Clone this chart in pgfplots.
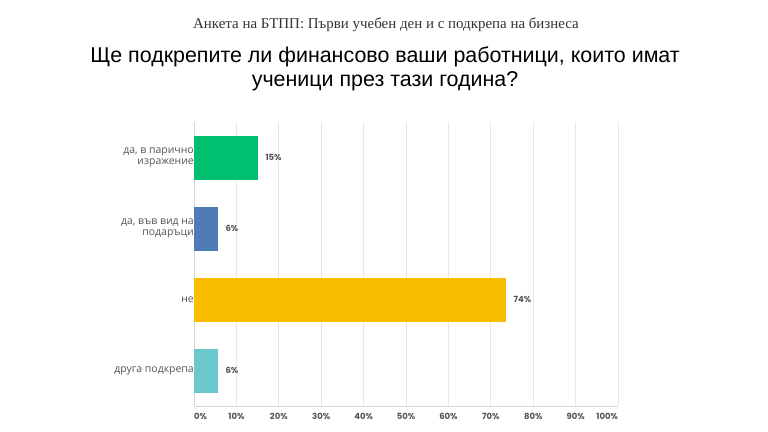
\documentclass[border=0pt]{standalone}
\usepackage{pgfplots}
\pgfplotsset{compat=1.18}
\usepackage{pgfplotstable}
\usepackage{fontspec}
\setmainfont{Liberation Sans}
\newfontfamily\numfont{Poppins}
\newfontfamily\catfont{Open Sans}
\newfontfamily\serfont{Liberation Serif}
\definecolor{cgreen}{HTML}{00BF6F}
\definecolor{cblue}{HTML}{507CB6}
\definecolor{cyellow}{HTML}{F9BE00}
\definecolor{cteal}{HTML}{6BC8CD}
\definecolor{labgray}{HTML}{555555}
\definecolor{gridgray}{HTML}{E8E8E8}
\definecolor{axgray}{HTML}{D6D6D6}
\begin{document}
\begin{tikzpicture}
\fill[white] (0,0) rectangle (768bp,432bp);
\node[font=\serfont\fontsize{15}{17}\selectfont, text=black!80] at (386bp,407bp) {Анкета на БТПП: Първи учебен ден и с подкрепа на бизнеса};
\node[font=\fontsize{21.5}{24.5}\selectfont, align=center, text=black] at (385bp,363bp) {Ще подкрепите ли финансово ваши работници, които имат\\ученици през тази година?};
\begin{axis}[
  at={(194bp,26bp)}, anchor=south west,
  scale only axis, width=424bp, height=284bp,
  xbar, bar width=44bp, bar shift=0pt,
  xmin=0, xmax=100,
  ymin=-0.5, ymax=3.5, y dir=reverse,
  xtick={0,10,...,100},
  xticklabels={\rlap{0\%},10\%,20\%,30\%,40\%,50\%,60\%,70\%,80\%,90\%,\llap{100\%}},
  ytick={0,1,2,3},
  yticklabels={{да, в парично\\изражение},{да, във вид на\\подаръци},не,друга подкрепа},
  yticklabel style={align=right, font=\catfont\fontsize{10.5}{11.5}\selectfont, text=labgray, inner xsep=0pt},
  xticklabel style={font=\numfont\bfseries\fontsize{8.5}{10}\selectfont, text=labgray, yshift=-4bp},
  major tick length=0pt,
  xmajorgrids, grid style={gridgray, line width=0.8pt},
  axis x line*=bottom, axis y line*=left,
  axis line style={axgray, line width=0.8pt, -},
  nodes near coords={\pgfmathprintnumber[fixed, precision=0, assume math mode=true]{\pgfplotspointmeta}\%},
  every node near coord/.append style={font=\numfont\bfseries\fontsize{8.5}{10}\selectfont, text=labgray, xshift=4bp},
  clip=false,
]
\addplot[fill=cgreen, draw=none] coordinates {(15.1,0)};
\addplot[fill=cblue, draw=none] coordinates {(5.66,1)};
\addplot[fill=cyellow, draw=none] coordinates {(73.6,2)};
\addplot[fill=cteal, draw=none] coordinates {(5.66,3)};
\end{axis}
\end{tikzpicture}
\end{document}
